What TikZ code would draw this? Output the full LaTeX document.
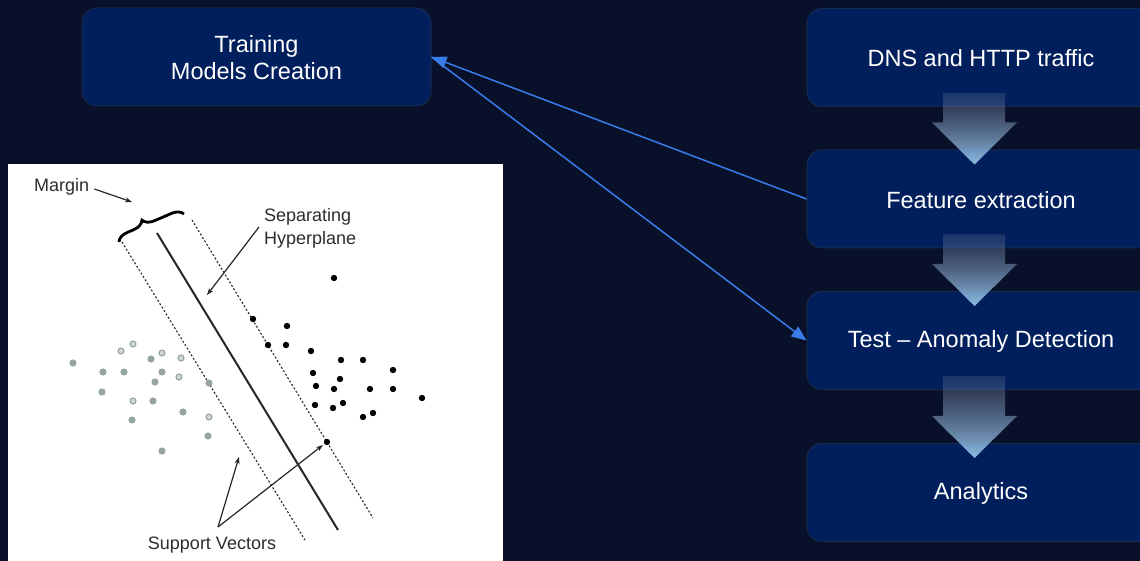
\documentclass[tikz,border=0pt]{standalone}
\usepackage{fontspec}
\setmainfont{Liberation Sans}
\usetikzlibrary{arrows.meta,decorations.pathreplacing,calc,fadings}
\definecolor{bgc}{RGB}{8,17,41}
\definecolor{boxc}{RGB}{0,31,92}
\definecolor{boxb}{RGB}{22,42,78}
\definecolor{linkc}{RGB}{58,123,234}
\definecolor{svmtxt}{RGB}{45,45,45}
\definecolor{svmgray}{RGB}{150,165,160}
\definecolor{arrtop}{RGB}{110,118,150}
\definecolor{arrmid}{RGB}{150,156,174}
\definecolor{arrbot}{RGB}{140,188,226}
\tikzfading[name=arrfade, top color=transparent!75, middle color=transparent!5, bottom color=transparent!0]
\newcommand\myblockarrow[2]{%
  \shade[top color=arrtop, middle color=arrmid, bottom color=arrbot, path fading=arrfade]
    let \p1=(#1.south), \p2=(#2.north) in
    ({\x1-38.5pt},{\y1+14pt}) -- ({\x1+23.5pt},{\y1+14pt}) --
    ({\x1+23.5pt},{\y2+27pt}) -- ({\x1+35.5pt},{\y2+27pt}) --
    ({\x1-7pt},{\y2-15pt}) -- ({\x1-49.5pt},{\y2+27pt}) --
    ({\x1-38.5pt},{\y2+27pt}) -- cycle;}
\begin{document}
\begin{tikzpicture}[x=1pt,y=-1pt,
  stepbox/.style={draw=boxb, line width=1pt, fill=boxc, rounded corners=15pt,
    minimum width=349pt, minimum height=98pt, text=white, align=center,
    inner sep=0pt, font=\fontsize{23.5}{27}\selectfont},
  link/.style={draw=linkc, line width=1.5pt, -{Triangle[length=15pt,width=12pt]}},
  svmtext/.style={text=svmtxt, font=\fontsize{18}{23}\selectfont, inner sep=0pt},
  svmdash/.style={draw=black!85, line width=1.1pt, dash pattern=on 2pt off 2pt},
  svmarrow/.style={draw=black!85, line width=1.2pt, -{Stealth[length=7pt,width=5pt]}},
  bdot/.style={fill=black, draw=none},
  gdot/.style={fill=svmgray, draw=none},
  odot/.style={draw=svmgray, line width=1.1pt, fill=white!55!svmgray}]
\fill[bgc] (0,0) rectangle (1140,561);
\useasboundingbox (0,0) rectangle (1140,561);
\clip (0,0) rectangle (1140,561);

% flow boxes
\node[stepbox] (train) at (256.5,57) {};
\node[text=white, align=center, inner sep=0pt, font=\fontsize{23.5}{27}\selectfont]
  (traintxt) at (256.5,58) {Training\\Models Creation};
\node[stepbox] (dns) at (981.5,57.5) {};
\node[stepbox] (feat) at (981.5,199) {};
\node[stepbox] (test) at (981.5,340.5) {};
\node[stepbox] (anal) at (981.5,492.5) {};
\node[text=white, font=\fontsize{23.5}{27}\selectfont] (dnstxt) at (981,58.5) {DNS and HTTP traffic};
\node[text=white, font=\fontsize{23.5}{27}\selectfont] (feattxt) at (981,200) {Feature extraction};
\node[text=white, font=\fontsize{23.5}{27}\selectfont] (testtxt) at (981,341.5) {Test -- Anomaly Detection};
\node[text=white, font=\fontsize{23.5}{27}\selectfont] (analtxt) at (981,493.5) {Analytics};

% block arrows
\myblockarrow{dns}{feat}
\myblockarrow{feat}{test}
\myblockarrow{test}{anal}

% blue connectors
\draw[link] (feat.west) -- (train.east);
\draw[link] (train.east) -- (test.west);

% SVM figure
\node[fill=white, inner sep=0pt, minimum width=495pt, minimum height=410pt,
  anchor=north west] (svm) at (8,164) {};

\node[svmtext, anchor=west] (margin) at (34,187) {Margin};
\draw[svmarrow] (margin.east) ++(5,2) -- (132,202);
\draw[line width=2.8pt, decorate, decoration={brace, amplitude=11pt, aspect=0.42}]
  (119,242) -- (184,214);

\draw[svmdash] (122,242) -- (305,540);
\draw[line width=2pt, draw=black!85] (157,233) -- (338,530);
\draw[svmdash] (192,220) -- (373,518);

\node[svmtext, anchor=west, align=left] (sep) at (264,228) {Separating\\Hyperplane};
\draw[svmarrow] (sep.west) ++(-5,-1) -- (207,295);

\node[svmtext] (sv) at (212,545) {Support Vectors};
\coordinate (svfoot) at (218,527);
\draw[svmarrow] (svfoot) -- (239,457);
\draw[svmarrow] (svfoot) -- (323,445);

% black points
\foreach \p in {(334,278),(253,319),(287,326),(268,345),(286,345),(311,351),
  (341,360),(363,360),(393,370),(313,373),(340,379),(316,386),(334,389),
  (370,389),(393,389),(422,398),(315,405),(333,408),(343,403),(363,417),
  (373,413),(327,442)}
  \fill[bdot] \p circle (3.2pt);
% grey points
\foreach \p in {(73,363),(151,359),(103,372),(124,372),(162,372),(155,382),
  (102,392),(153,401),(209,383),(183,412),(132,420),(208,436),(162,451)}
  \fill[gdot] \p circle (3.6pt);
\foreach \p in {(121,351),(133,344),(162,353),(181,358),(179,377),(133,401),(209,417)}
  \filldraw[odot] \p circle (3pt);
\end{tikzpicture}
\end{document}
